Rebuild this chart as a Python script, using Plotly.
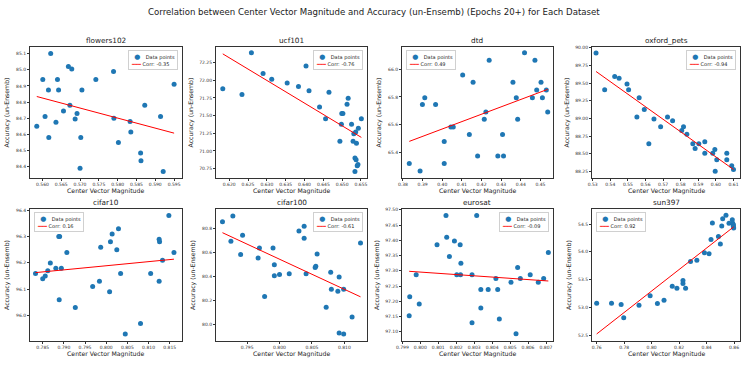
import numpy as np
import plotly.graph_objects as go

W, H = 747, 374

datasets = ["flowers102", "ucf101", "dtd", "oxford_pets", "cifar10", "cifar100", "eurosat", "sun397"]
corr_labels = ["Corr: -0.35", "Corr: -0.76", "Corr: 0.49", "Corr: -0.94",
               "Corr: 0.16", "Corr: -0.61", "Corr: -0.09", "Corr: 0.92"]

flowers102_x = [0.5585, 0.5601, 0.5607, 0.5616, 0.5617, 0.5622, 0.5636, 0.5640, 0.5643, 0.5656,
                0.5669, 0.5673, 0.5678, 0.5687, 0.5692, 0.5700, 0.5702, 0.5705, 0.5742, 0.5789,
                0.5790, 0.5802, 0.5833, 0.5835, 0.5861, 0.5862, 0.5872, 0.5914, 0.5921, 0.5950]
flowers102_y = [84.65, 84.94, 84.71, 84.875, 84.58, 85.10, 84.675, 84.94, 84.875, 84.745,
                85.02, 84.78, 85.005, 84.695, 84.73, 84.39, 84.58, 84.875, 84.94, 84.99,
                84.70, 84.55, 84.68, 84.615, 84.485, 84.437, 84.78, 84.71, 84.37, 84.91]

ucf101_x = [0.6183, 0.6234, 0.6259, 0.6290, 0.6313, 0.6354, 0.6384, 0.6404, 0.6412, 0.6440,
            0.6456, 0.6465, 0.6494, 0.6498, 0.6499, 0.6502, 0.6513, 0.6516, 0.6525, 0.6529,
            0.6531, 0.6534, 0.6534, 0.6536, 0.6537, 0.6538, 0.6540, 0.6542, 0.6543, 0.6551]
ucf101_y = [71.88, 71.80, 72.387, 72.094, 72.014, 71.96, 71.91, 72.20, 71.85, 71.62,
            71.457, 71.83, 71.137, 71.377, 71.53, 71.53, 71.66, 71.745, 71.377, 71.137,
            71.245, 70.71, 70.90, 71.27, 70.875, 71.11, 70.79, 70.81, 71.32, 71.457]

dtd_x = [0.3832, 0.3887, 0.3899, 0.3911, 0.3966, 0.4010, 0.4010, 0.4044, 0.4056, 0.4104,
         0.4138, 0.4157, 0.4180, 0.4214, 0.4222, 0.4239, 0.4283, 0.4307, 0.4312, 0.4360,
         0.4377, 0.4384, 0.4419, 0.4459, 0.4472, 0.4481, 0.4503, 0.4510, 0.4530, 0.4537]
dtd_y = [65.318, 65.265, 65.745, 65.795, 65.745, 65.477, 65.318, 65.583, 65.583, 65.959,
         65.528, 65.906, 65.373, 65.639, 65.692, 66.065, 65.373, 65.528, 65.373, 65.906,
         65.795, 65.639, 66.12, 65.795, 66.065, 65.851, 65.906, 65.795, 65.851, 65.692]

oxford_pets_x = [0.5319, 0.5368, 0.5425, 0.5450, 0.5495, 0.5504, 0.5551, 0.5564, 0.5593, 0.5619,
                 0.5648, 0.5686, 0.5725, 0.5754, 0.5806, 0.5816, 0.5835, 0.5869, 0.5882, 0.5903,
                 0.5937, 0.5937, 0.5982, 0.5994, 0.5996, 0.6005, 0.6062, 0.6062, 0.6090, 0.6100]
oxford_pets_y = [89.925, 89.406, 89.594, 89.566, 89.486, 89.406, 89.019, 89.292, 89.127, 88.641,
                 88.99, 88.882, 89.019, 88.967, 88.83, 88.882, 88.774, 88.641, 88.575, 88.641,
                 88.67, 88.505, 88.505, 88.561, 88.25, 88.415, 88.505, 88.415, 88.33, 88.278]

cifar10_x = [0.7833, 0.7850, 0.7856, 0.7862, 0.7868, 0.7881, 0.7888, 0.7890, 0.7889, 0.7894,
             0.7907, 0.7927, 0.7968, 0.7984, 0.7987, 0.8008, 0.8010, 0.8014, 0.8025, 0.8029,
             0.8034, 0.8045, 0.8081, 0.8105, 0.8125, 0.8126, 0.8125, 0.8133, 0.8148, 0.8160]
cifar10_y = [96.16, 96.14, 96.15, 96.17, 96.20, 96.18, 96.30, 96.30, 96.06, 96.18,
             96.24, 96.03, 96.11, 96.13, 96.26, 96.09, 96.28, 96.31, 96.25, 96.33,
             96.16, 95.93, 95.97, 96.16, 96.29, 96.28, 96.13, 96.21, 96.38, 96.24]

cifar100_x = [0.7912, 0.7925, 0.7928, 0.7940, 0.7943, 0.7967, 0.7969, 0.7977, 0.7990, 0.7992,
              0.7992, 0.8000, 0.8015, 0.8030, 0.8038, 0.8038, 0.8041, 0.8055, 0.8056, 0.8058,
              0.8072, 0.8079, 0.8080, 0.8090, 0.8092, 0.8092, 0.8099, 0.8099, 0.8112, 0.8125]
cifar100_y = [80.853, 80.69, 80.90, 80.58, 80.74, 80.55, 80.633, 80.23, 80.633, 80.494,
              80.403, 80.414, 80.42, 80.775, 80.814, 80.714, 80.42, 80.472, 80.483, 80.583,
              80.142, 80.433, 80.292, 80.275, 80.392, 79.928, 80.292, 79.919, 80.061, 80.675]

eurosat_x = [0.79938, 0.79941, 0.79977, 0.79994, 0.80093, 0.80143, 0.80147, 0.80162, 0.80190, 0.80203,
             0.80222, 0.80226, 0.80224, 0.80288, 0.80288, 0.80314, 0.80337, 0.80337, 0.80378, 0.80421,
             0.80431, 0.80440, 0.80505, 0.80533, 0.80542, 0.80557, 0.80612, 0.80657, 0.80687, 0.80713]
eurosat_y = [97.153, 97.215, 97.287, 97.191, 97.386, 97.482, 97.41, 97.347, 97.398, 97.287,
             97.386, 97.325, 97.287, 97.287, 97.13, 97.482, 97.239, 97.178, 97.239, 97.275,
             97.239, 97.142, 97.263, 97.094, 97.311, 97.275, 97.287, 97.263, 97.275, 97.36]

sun397_x = [0.7600, 0.7708, 0.7778, 0.7797, 0.7908, 0.7989, 0.8042, 0.8090, 0.8150, 0.8184,
            0.8228, 0.8228, 0.8247, 0.8283, 0.8329, 0.8384, 0.8418, 0.8432, 0.8442, 0.8486,
            0.8500, 0.8510, 0.8517, 0.8541, 0.8563, 0.8587, 0.8590, 0.8595, 0.8597, 0.8595]
sun397_y = [53.077, 53.077, 53.053, 52.818, 53.041, 53.209, 53.071, 53.131, 53.383, 53.347,
            53.431, 53.485, 53.347, 53.827, 53.851, 53.983, 53.965, 54.224, 54.518, 54.278,
            54.14, 54.464, 54.596, 54.656, 54.512, 54.578, 54.512, 54.488, 54.428, 54.458]

xs = [flowers102_x, ucf101_x, dtd_x, oxford_pets_x, cifar10_x, cifar100_x, eurosat_x, sun397_x]
ys = [flowers102_y, ucf101_y, dtd_y, oxford_pets_y, cifar10_y, cifar100_y, eurosat_y, sun397_y]

x_ranges = [[0.5567, 0.5971], [0.6165, 0.6566], [0.3795, 0.4564], [0.5296, 0.6137],
            [0.7820, 0.8179], [0.7902, 0.8135], [0.79898, 0.80739], [0.7566, 0.8643]]
y_ranges = [[84.33, 85.141], [70.618, 72.47], [65.214, 66.161], [88.156, 90.01],
            [95.903, 96.405], [79.861, 80.958], [97.070, 97.503], [52.398, 54.77]]
x_dticks = [0.005, 0.005, 0.01, 0.01, 0.005, 0.005, 0.001, 0.02]
x_fmts = [".3f", ".3f", ".2f", ".2f", ".3f", ".3f", ".3f", ".2f"]
y_dticks = [0.1, 0.25, 0.2, 0.25, 0.1, 0.2, 0.05, 0.5]
y_fmts = [".1f", ".2f", ".1f", ".2f", ".1f", ".1f", ".2f", ".1f"]
legend_right = [True, True, False, True, False, True, True, False]

col_px = [(30, 182), (216, 367), (402, 553), (592, 740)]
row_px = [(47, 178), (209, 341)]

BLUE = "#1f77b4"
RED = "red"
FONT = "DejaVu Sans"
AX_COLOR = "#333333"
TXT = "#222222"

fig = go.Figure()
layout = dict(
    width=W, height=H,
    margin=dict(l=0, r=0, t=0, b=0, autoexpand=False),
    paper_bgcolor="white", plot_bgcolor="white",
    font=dict(family=FONT, color=TXT, size=5),
    showlegend=False,
)
annotations = []

for i, name in enumerate(datasets):
    r, c = divmod(i, 4)
    k = i + 1
    xa = "x" if k == 1 else f"x{k}"
    ya = "y" if k == 1 else f"y{k}"
    x = np.array(xs[i])
    y = np.array(ys[i])
    slope, intercept = np.polyfit(x, y, 1)
    lx = np.array([x.min(), x.max()])
    ly = slope * lx + intercept

    fig.add_trace(go.Scatter(x=x, y=y, mode="markers", name="Data points",
                             marker=dict(color=BLUE, size=5, line=dict(width=0)),
                             xaxis=xa, yaxis=ya))
    fig.add_trace(go.Scatter(x=lx, y=ly, mode="lines", name=corr_labels[i],
                             line=dict(color=RED, width=1),
                             xaxis=xa, yaxis=ya))

    l, rr = col_px[c]
    t, b = row_px[r]
    xdom = [l / W, rr / W]
    ydom = [1 - b / H, 1 - t / H]
    common = dict(showline=True, linecolor=AX_COLOR, linewidth=1, mirror=True,
                  showgrid=False, zeroline=False, ticks="outside", ticklen=2,
                  tickwidth=1, tickcolor=AX_COLOR, automargin=False,
                  tickfont=dict(family=FONT, size=4.5, color="#333333"))
    layout["xaxis" if k == 1 else f"xaxis{k}"] = dict(
        common, domain=xdom, anchor=ya, range=x_ranges[i], tickmode="linear",
        tick0=0, dtick=x_dticks[i], tickformat=x_fmts[i])
    layout["yaxis" if k == 1 else f"yaxis{k}"] = dict(
        common, domain=ydom, anchor=xa, range=y_ranges[i], tickmode="linear",
        tick0=0, dtick=y_dticks[i], tickformat=y_fmts[i],
        title=dict(text="Accuracy (un-Ensemb)", font=dict(family=FONT, size=6.2, color=TXT),
                   standoff=5))

    # x-axis title
    annotations.append(dict(text="Center Vector Magnitude", x=(l + rr) / 2 / W, y=1 - b / H,
                            xref="paper", yref="paper", xanchor="center", yanchor="middle",
                            yshift=-13, showarrow=False,
                            font=dict(family=FONT, size=6.2, color=TXT)))
    # subplot title
    annotations.append(dict(text=name, x=(l + rr) / 2 / W, y=1 - t / H, xref="paper", yref="paper",
                            xanchor="center", yanchor="bottom", yshift=0, showarrow=False,
                            font=dict(family=FONT, size=7.3, color=TXT)))
    # legend box
    nb = "\u00a0"
    leg_text = (f"<span style='color:{BLUE};font-size:7px'>{nb}●{nb}</span>{nb}{nb}Data points<br>"
                f"<span style='color:{RED}'>━━━</span>{nb}Corr: {corr_labels[i][6:]}")
    if legend_right[i]:
        lgx, xanc = (rr - 4) / W, "right"
    else:
        lgx, xanc = (l + 4) / W, "left"
    annotations.append(dict(text=leg_text, x=lgx, y=1 - (t + 3) / H, xref="paper", yref="paper",
                            xanchor=xanc, yanchor="top", align="left", showarrow=False,
                            bgcolor="rgba(255,255,255,0.8)", bordercolor="#d0d0d0",
                            borderwidth=1, borderpad=2,
                            font=dict(family=FONT, size=5, color=TXT)))

annotations.append(dict(
    text="Correlation between Center Vector Magnitude and Accuracy (un-Ensemb) (Epochs 20+) for Each Dataset",
    x=0.5, y=1 - 12 / H, xref="paper", yref="paper", xanchor="center", yanchor="middle",
    showarrow=False, font=dict(family=FONT, size=8.6, color=TXT)))
layout["annotations"] = annotations
fig.update_layout(**layout)
fig.write_html("out.html", config={"displayModeBar": False},
               post_script="document.body.style.margin='0';document.body.style.padding='0';")
